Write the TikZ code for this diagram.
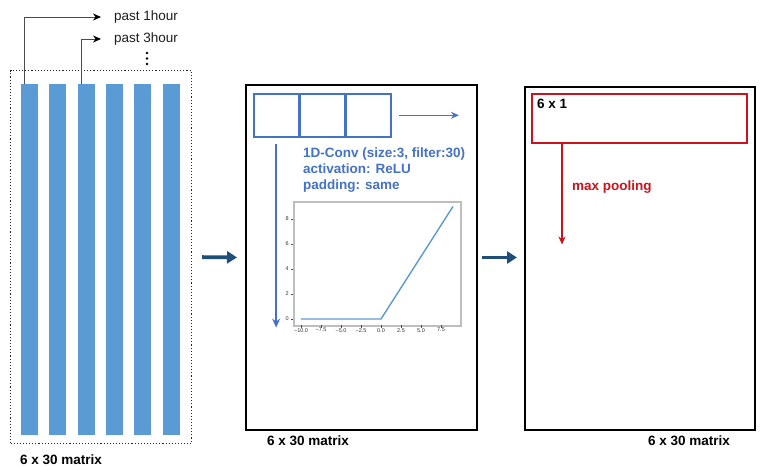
\documentclass[tikz,border=0pt]{standalone}
\usepackage{fontspec}
\setmainfont{Liberation Sans}
\usetikzlibrary{arrows.meta,calc}
\definecolor{barblue}{RGB}{91,155,213}
\definecolor{convblue}{RGB}{68,114,196}
\definecolor{poolred}{RGB}{200,20,30}
\definecolor{flowblue}{RGB}{31,78,121}
\definecolor{plotgray}{RGB}{190,190,190}
\definecolor{labelgray}{RGB}{30,30,30}
\tikzset{
  bar/.style={fill=barblue, draw=none, minimum width=17pt, minimum height=351pt, inner sep=0, anchor=north},
  panel/.style={draw=black, line width=2pt, inner sep=0, anchor=north west},
  convcell/.style={draw=convblue, line width=1.6pt, minimum width=44.7pt, minimum height=43pt, inner sep=0, anchor=north west},
  garrow/.style={draw=labelgray!80, line width=1pt, -{Stealth[length=8pt,width=7pt,color=black]}},
  bigarrow/.style={draw=flowblue, line width=3.8pt, -{Triangle[length=10pt,width=12pt]}},
  blabel/.style={font=\fontsize{13.5}{16}\selectfont\bfseries, inner sep=0},
  rlabel/.style={font=\fontsize{13.5}{16}\selectfont, text=labelgray, inner sep=0, anchor=west},
  ticklab/.style={font=\fontsize{5.5}{6}\selectfont, text=black!80, inner sep=0},
}
\begin{document}
\begin{tikzpicture}[x=1pt,y=-1pt]
\useasboundingbox (0,0) rectangle (761,469);
\fill[white] (0,0) rectangle (761,469);

% ---------- panel 1 ----------
\node[draw=black!85, dotted, line width=1.1pt, minimum width=181pt, minimum height=373pt, inner sep=0, anchor=north west] (p1) at (10,70) {};
\foreach \i/\xx in {1/29.5,2/57.8,3/86.1,4/114.4,5/142.7,6/171.0}
  \node[bar] (b\i) at (\xx,84) {};
\node[rlabel] (t1) at (114,17) {past 1hour};
\node[rlabel] (t2) at (114,39) {past 3hour};
\draw[garrow] ([xshift=4pt]b1.north west) |- ([xshift=-13pt]t1.west);
\draw[garrow] ([xshift=4pt]b3.north west) |- ([xshift=-13pt]t2.west);
\foreach \yy in {53,58.5,64}
  \fill[black] (147,\yy) circle (1.4pt);
\node[blabel] (l1) at (61,460) {6 x 30 matrix};

% ---------- panel 2 ----------
\node[panel, minimum width=231pt, minimum height=345pt] (p2) at (245,84) {};
\node[convcell] (c1) at (253,93) {};
\node[convcell] (c2) at (c1.north east) {};
\node[convcell] (c3) at (c2.north east) {};
\draw[draw=convblue, line width=1.3pt, -{Stealth[length=8pt,width=7pt]}] ([xshift=7pt]c3.east) -- ++(60,0) coordinate (r1);
\draw[draw=convblue, line width=1.8pt, -{Stealth[length=9pt,width=8pt]}] ([yshift=-6pt]c1.south) -- ++(0,184) coordinate (d1);
\node[blabel, text=convblue, anchor=north west, align=left] (ctext) at (303,148) {1D-Conv (size:3, filter:30)\\activation: ReLU\\padding: same};

% ReLU plot
\node[draw=plotgray, line width=1.5pt, minimum width=167pt, minimum height=124pt, inner sep=0, anchor=north west] (plot) at (293,201) {};
\draw[barblue, line width=1.4pt] (301,319) -- (381,319) -- (453,206.5);
\foreach \v in {0,2,4,6,8}{
  \draw[black!70, line width=0.5pt] (293,{319-12.5*\v}) -- (290.5,{319-12.5*\v});
  \node[ticklab, anchor=east] at (289,{319-12.5*\v}) {\v};
}
\foreach \u/\lab in {-10/−10.0,-7.5/−7.5,-5/−5.0,-2.5/−2.5,0/0.0,2.5/2.5,5/5.0,7.5/7.5}{
  \draw[black!70, line width=0.5pt] ({381+8*\u},325) -- ({381+8*\u},327.5);
  \node[ticklab, anchor=north] at ({381+8*\u},328) {\lab};
}
\node[blabel] (l2) at (308,441) {6 x 30 matrix};

% ---------- panel 3 ----------
\node[panel, minimum width=230pt, minimum height=343pt] (p3) at (524,86) {};
\node[draw=poolred, line width=1.5pt, minimum width=215pt, minimum height=49pt, inner sep=0, anchor=north west] (pool) at (531,93) {};
\node[blabel, anchor=west] (six) at (537,104) {6 x 1};
\draw[draw=poolred, line width=1.4pt, -{Stealth[length=8pt,width=7pt]}] (pool.south -| 562,0) -- ++(0,101) coordinate (pend);
\node[blabel, text=poolred, anchor=west] (mp) at (572,187) {max pooling};
\node[blabel] (l3) at (689,441) {6 x 30 matrix};

% ---------- flow arrows ----------
\draw[bigarrow, shorten <=10pt, shorten >=8pt] (p1.east) -- (p2.west);
\draw[bigarrow, shorten <=4pt, shorten >=7pt] (p2.east) -- (p2.east -| p3.west);
\end{tikzpicture}
\end{document}
